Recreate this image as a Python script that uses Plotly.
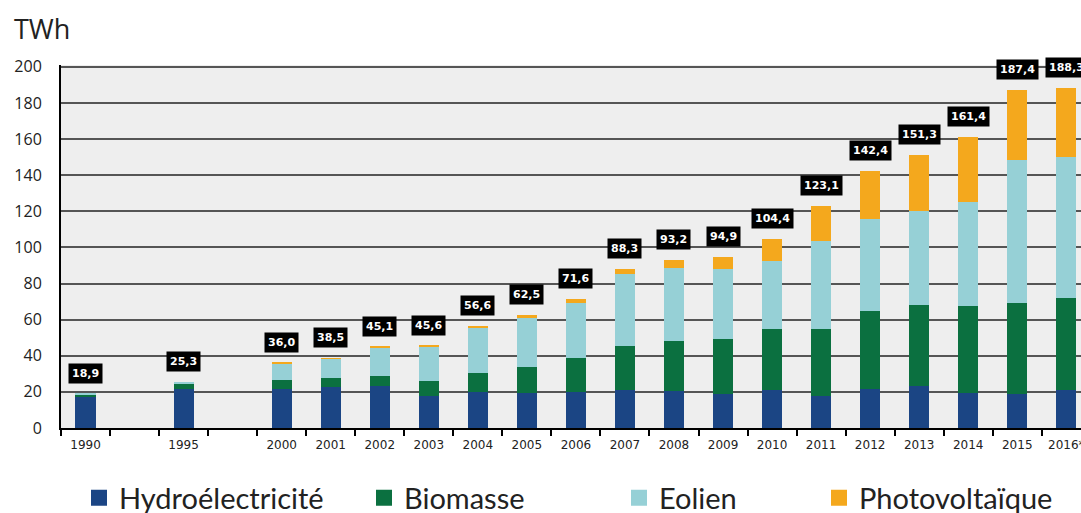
import plotly.graph_objects as go

categories = ["1990", " ", "1995", "  ", "2000", "2001", "2002", "2003", "2004", "2005",
              "2006", "2007", "2008", "2009", "2010", "2011", "2012", "2013", "2014",
              "2015", "2016*"]
hydro = [17.2, None, 21.6, None, 21.7, 22.7, 23.4, 17.7, 20.1, 19.6,
         20.0, 21.2, 20.4, 19.0, 21.0, 17.7, 21.8, 23.0, 19.6, 19.0, 21.0]
biomasse = [1.6, None, 2.5, None, 4.7, 5.2, 5.3, 8.2, 10.2, 14.0,
            18.5, 24.3, 27.5, 30.1, 33.9, 36.9, 43.0, 45.0, 47.8, 50.0, 51.1]
eolien = [0.1, None, 1.2, None, 9.5, 10.5, 16.1, 19.0, 25.5, 27.2,
          30.7, 39.7, 40.5, 39.1, 37.8, 48.9, 51.1, 52.2, 57.6, 79.2, 77.8]
photovoltaique = [0.0, None, 0.0, None, 0.1, 0.1, 0.3, 0.7, 0.8, 1.7,
                  2.4, 3.1, 4.8, 6.7, 11.7, 19.6, 26.5, 31.1, 36.4, 39.2, 38.4]
totals = [18.9, None, 25.3, None, 36.0, 38.5, 45.1, 45.6, 56.6, 62.5,
          71.6, 88.3, 93.2, 94.9, 104.4, 123.1, 142.4, 151.3, 161.4, 187.4, 188.3]
series_names = ["Hydroélectricité", "Biomasse", "Eolien", "Photovoltaïque"]
colors = ["#1b4584", "#0b7040", "#96d0d6", "#f4a81d"]

fig = go.Figure()
legend_ids = ["legend", "legend2", "legend3", "legend4"]
for name, vals, col, lg in zip(series_names, [hydro, biomasse, eolien, photovoltaique], colors, legend_ids):
    fig.add_trace(go.Bar(x=categories, y=vals, name=name, marker=dict(color=col, line=dict(width=0)),
                         showlegend=False, legendgroup=name))
    # legend entry with a larger square key
    fig.add_trace(go.Scatter(x=[None], y=[None], mode="markers", name=name, legendgroup=name,
                             marker=dict(symbol="square", size=18, color=col), legend=lg,
                             hoverinfo="skip"))

for i, tot in enumerate(totals):
    if tot is None:
        continue
    fig.add_annotation(x=i, y=tot, text="<b>" + f"{tot:.1f}".replace(".", ",") + "</b>",
                       showarrow=False, yanchor="bottom", yshift=10,
                       bgcolor="black", borderpad=3,
                       font=dict(family="DejaVu Sans", size=11, color="white"))

legend_font = dict(family="Lato", size=29, color="#222222")
legend_x_px = [79, 364, 619, 819]
for lg, xp in zip(legend_ids, legend_x_px):
    fig.update_layout(**{lg: dict(x=xp / 1081, xref="container", xanchor="left",
                                  y=1 - 498 / 513, yref="container", yanchor="middle",
                                  orientation="h", font=legend_font, itemsizing="trace",
                                  bgcolor="rgba(0,0,0,0)")})

fig.update_layout(
    width=1081, height=513,
    margin=dict(l=61, r=0, t=65, b=85, autoexpand=False),
    paper_bgcolor="white",
    plot_bgcolor="#eeeeee",
    barmode="stack",
    bargap=0.59,
    showlegend=True,
    title=dict(text="TWh", x=14 / 1081, xref="container", xanchor="left",
               y=1 - 30 / 513, yref="container", yanchor="middle",
               font=dict(family="Open Sans", size=27, color="#222222")),
    xaxis=dict(type="category", categoryorder="array", categoryarray=categories,
               range=[-0.5, 20.3], tickson="boundaries", ticks="outside", ticklen=6,
               tickwidth=2, tickcolor="black", showline=True, linecolor="black", linewidth=2,
               showgrid=False, automargin=False, ticklabelstandoff=5,
               tickfont=dict(family="DejaVu Sans", size=12, color="#222222"),
               tickangle=0),
    yaxis=dict(range=[0, 201], tickvals=[0, 20, 40, 60, 80, 100, 120, 140, 160, 180, 200],
               showgrid=True, gridcolor="#555555", gridwidth=1.5, showline=True,
               linecolor="black", linewidth=2, zeroline=False, ticks="", automargin=False,
               ticklabelstandoff=14,
               tickfont=dict(family="Open Sans", size=16, color="#222222")),
)

fig.write_html("out.html", config={"displayModeBar": False},
               post_script="document.body.style.margin='0px';document.body.style.overflow='hidden';")
